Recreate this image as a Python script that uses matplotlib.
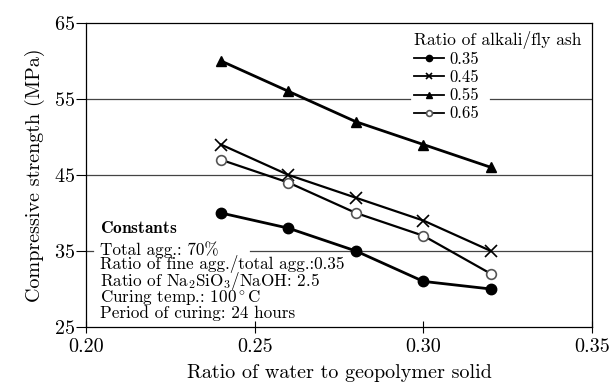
import matplotlib
matplotlib.use('Agg')
import matplotlib.pyplot as plt

plt.rcParams['font.family'] = ['cmr10', 'DejaVu Serif']
plt.rcParams['mathtext.fontset'] = 'cm'
plt.rcParams['axes.formatter.use_mathtext'] = True

water_ratio = [0.24, 0.26, 0.28, 0.30, 0.32]
series_labels = ['0.35', '0.45', '0.55', '0.65']
strength_035 = [40, 38, 35, 31, 30]
strength_045 = [49, 45, 42, 39, 35]
strength_055 = [60, 56, 52, 49, 46]
strength_065 = [47, 44, 40, 37, 32]
x_ticks = [0.20, 0.25, 0.30, 0.35]
y_ticks = [25, 35, 45, 55, 65]

fig = plt.figure(figsize=(6.12, 3.84), dpi=100)
ax = fig.add_axes([0.1405, 0.1484, 0.827, 0.792])

# horizontal reference lines, broken where the text boxes sit
grid_kw = dict(color='#444444', lw=0.9, zorder=0)
ax.axhline(55, xmax=0.640, **grid_kw)
ax.axhline(55, xmin=0.798, **grid_kw)
ax.axhline(45, **grid_kw)
ax.axhline(35, xmax=0.014, **grid_kw)
ax.axhline(35, xmin=0.324, **grid_kw)

styles = [
    (strength_035, dict(marker='o', ms=7.5, mfc='black', mec='black', lw=2.0)),
    (strength_045, dict(marker='x', ms=8, mew=1.2, lw=1.6)),
    (strength_055, dict(marker='^', ms=7.5, mfc='black', mec='black', lw=2.0)),
    (strength_065, dict(marker='o', ms=7, mfc='white', mec='#555555', mew=1.2, lw=1.6)),
]
for (vals, st), lab in zip(styles, series_labels):
    ax.plot(water_ratio, vals, color='black', label=lab, zorder=3, **st)

ax.set_xlim(0.20, 0.35)
ax.set_ylim(25, 65)
ax.set_xticks(x_ticks)
ax.set_xticklabels([f'{t:.2f}' for t in x_ticks])
ax.set_yticks(y_ticks)
ax.tick_params(axis='x', direction='inout', length=8, labelsize=14.5, pad=4)
ax.tick_params(axis='y', direction='out', length=7, labelsize=14.5, pad=1)
for s in ax.spines.values():
    s.set_linewidth(0.9)
ax.set_xlabel('Ratio of water to geopolymer solid', fontsize=14.5, labelpad=6)
ax.set_ylabel('Compressive strength (MPa)', fontsize=14.5, labelpad=6)

leg = ax.legend(title='Ratio of alkali/fly ash', loc='upper left',
                bbox_to_anchor=(0.625, 1.012), fontsize=12, title_fontsize=12.5,
                frameon=False, handlelength=1.8, handletextpad=0.3,
                labelspacing=0.17, borderpad=0.2, markerscale=0.6)
leg._legend_box.align = 'left'
for h in leg.legend_handles:
    h.set_linewidth(1.3)

ax.text(0.028, 0.325, r'$\mathbf{Constants}$', transform=ax.transAxes,
        fontsize=12.5, ha='left', va='center', zorder=4)
const_text = ('Total agg.: 70%\n'
              'Ratio of fine agg./total agg.:0.35\n'
              r'Ratio of Na$_2$SiO$_3$/NaOH: 2.5' '\n'
              r'Curing temp.: 100$^\circ$C' '\n'
              'Period of curing: 24 hours')
ax.text(0.028, 0.283, const_text, transform=ax.transAxes, fontsize=12.3,
        ha='left', va='top', linespacing=0.8, zorder=4)

fig.savefig('out.png', dpi=100)
